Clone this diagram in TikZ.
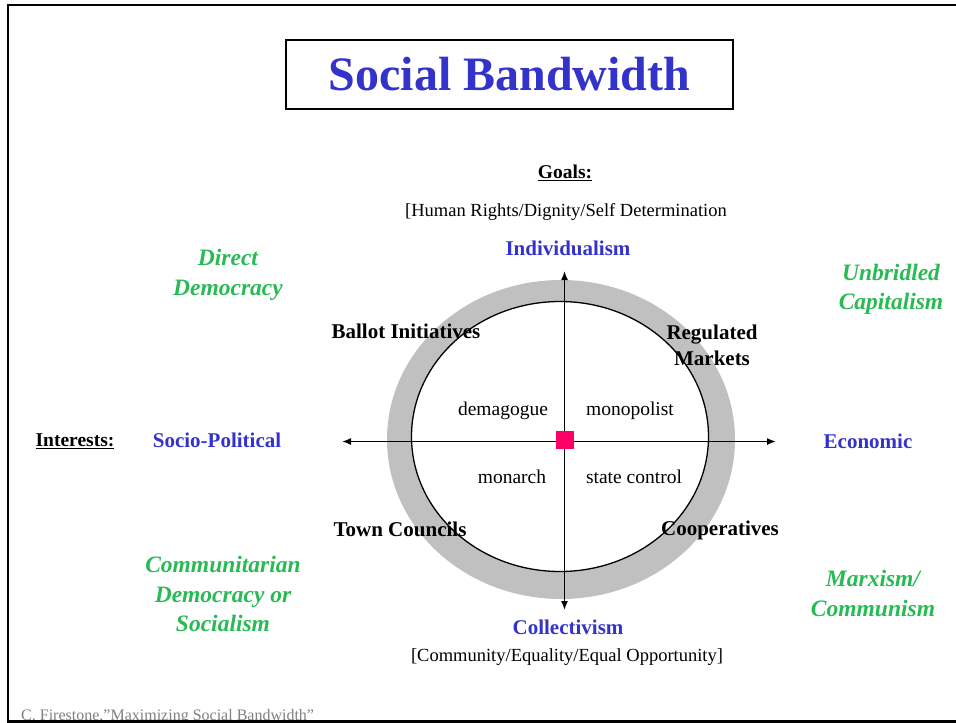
\documentclass[tikz,border=0pt]{standalone}
\usepackage{fontspec}
\setmainfont{Liberation Serif}
\usepackage{xcolor}
\usetikzlibrary{positioning, arrows.meta}

\definecolor{poleblue}{RGB}{51,51,204}
\definecolor{ideagreen}{RGB}{40,186,84}
\definecolor{centrepink}{RGB}{255,0,102}
\definecolor{ringgray}{RGB}{192,192,192}

\begin{document}
\begin{tikzpicture}[>={Latex[length=9pt,width=7pt]}, x=1pt, y=-1pt,
    pole/.style={font=\fontsize{21}{25}\selectfont\bfseries, text=poleblue, inner sep=0pt},
    corner/.style={font=\fontsize{21}{26}\selectfont\bfseries, align=center, inner sep=0pt},
    inner/.style={font=\fontsize{19.5}{23}\selectfont, inner sep=0pt},
    note/.style={font=\fontsize{18.5}{22}\selectfont, inner sep=0pt},
    ideology/.style={font=\fontsize{23.5}{29.5}\selectfont\bfseries\itshape,
        text=ideagreen, align=center, inner sep=0pt}]
    \useasboundingbox (0,0) rectangle (956,723);

    % Khung trang
    \draw[line width=2.5pt] (956,5) -- (8,5) -- (8,721.5) -- (956,721.5);

    % Tiêu đề
    \node[draw, line width=1.2pt, minimum width=447, minimum height=69,
        font=\fontsize{48}{56}\selectfont\bfseries, text=poleblue] (title) at (509.5,74.5) {Social Bandwidth};

    % Vòng tròn
    \fill[ringgray] (561,439.5) ellipse [x radius=174, y radius=159.5];
    \filldraw[fill=white, line width=1.3pt] (560,436.5) ellipse [x radius=148.5, y radius=135];

    % Hai trục
    \coordinate (west) at (342,441.5);
    \coordinate (east) at (776,441.5);
    \coordinate (north) at (564.5,271);
    \coordinate (south) at (564.5,610);
    \draw[<->, line width=1.4pt] (west) -- (east);
    \draw[<->, line width=1.4pt] (south) -- (north);
    \node[fill=centrepink, minimum size=18, inner sep=0pt] (centre) at (565,440) {};

    % Mục tiêu
    \node[font=\fontsize{19.5}{23}\selectfont\bfseries, inner sep=0pt] (goals) at (565,173) {\underline{Goals:}};
    \node[note] (goaltop) at (566,212) {[Human Rights/Dignity/Self Determination};
    \node[pole] (individ) at (568,248) {Individualism};
    \node[pole] (collect) at (568,627) {Collectivism};
    \node[note] (goalbot) at (567,657) {[Community/Equality/Equal Opportunity]};

    % Lợi ích
    \node[font=\fontsize{19.5}{23}\selectfont\bfseries, inner sep=0pt] (interests) at (75,441) {\underline{Interests:}};
    \node[pole] (sociopol) at (217,440) {Socio-Political};
    \node[pole] (economic) at (868,441) {Economic};

    % Bốn góc trong
    \node[corner] (ballot) at (406,331) {Ballot Initiatives};
    \node[corner] (regulated) at (712,345) {Regulated\\Markets};
    \node[corner] (town) at (400,529) {Town Councils};
    \node[corner] (coop) at (720,530) {Cooperatives};
    \node[inner] (demagogue) at (503,411) {demagogue};
    \node[inner] (monopolist) at (630,411) {monopolist};
    \node[inner] (monarch) at (512,477) {monarch};
    \node[inner] (statectl) at (634,477) {state control};

    % Hệ tư tưởng
    \node[ideology] (direct) at (228,275) {Direct\\Democracy};
    \node[ideology] (unbridled) at (891,289.5) {Unbridled\\Capitalism};
    \node[ideology] (communit) at (223,594) {Communitarian\\Democracy or\\Socialism};
    \node[ideology] (marxism) at (873,593.5) {Marxism/\\Communism};

    % Chú thích
    \node[anchor=base west, font=\fontsize{16}{19}\selectfont, text=gray, inner sep=0pt] (credit) at (21,720)
        {C. Firestone,''Maximizing Social Bandwidth''};
    \draw[line width=2.5pt] (8,721.5) -- (956,721.5);
\end{tikzpicture}
\end{document}
